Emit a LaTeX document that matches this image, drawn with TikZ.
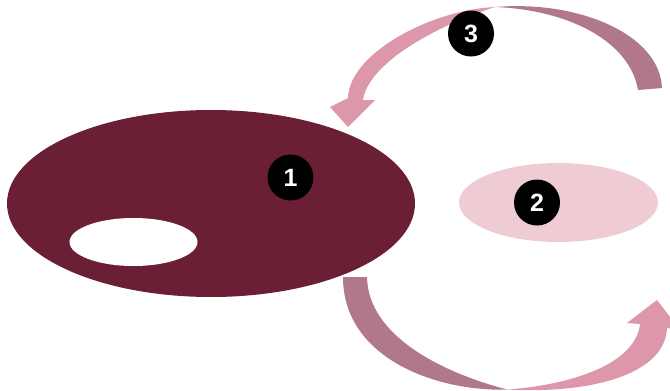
\documentclass[tikz,border=0pt]{standalone}
\usepackage{fontspec}
\setsansfont{Liberation Sans}
\usetikzlibrary{shapes.geometric}
\definecolor{maroon}{HTML}{6A1F35}
\definecolor{mauve}{HTML}{B07888}
\definecolor{rosepink}{HTML}{DC97AA}
\definecolor{palepink}{HTML}{EFCCD4}
\tikzset{
  badge/.style={circle, fill=black, minimum size=46pt, inner sep=0pt, text=white,
    font=\sffamily\bfseries\fontsize{25}{25}\selectfont},
  blob/.style={ellipse, inner sep=0pt},
  tailpart/.style={fill=mauve},
  headpart/.style={fill=rosepink}
}
\begin{document}
\begin{tikzpicture}[x=1pt,y=-1pt]
\useasboundingbox (0,0) rectangle (670,391);
\clip (0,0) rectangle (670,391);
% top arrow (3)
\coordinate (tm) at (495,7);
\path[tailpart] (662,88) .. controls (660,35) and (580,0) .. (tm)
  .. controls (570,10) and (630,42) .. (638,90) -- cycle;
\path[headpart] (tm) .. controls (430,10) and (349,54) .. (348,98)
  -- (330,107) -- (348,127) -- (375,100) -- (363,100)
  .. controls (368,65) and (430,28) .. (tm) -- cycle;
% bottom arrow
\coordinate (bm) at (507,389.5);
\path[tailpart] (343,277) .. controls (343,360) and (440,392) .. (bm)
  .. controls (440,372) and (368,335) .. (367,277) -- cycle;
\path[headpart] (bm) .. controls (560,386) and (635,368) .. (640,324)
  -- (627,323) -- (657,300) -- (680,330) -- (667,328)
  .. controls (665,375) and (590,394) .. (bm) -- cycle;
% ellipses
\node[blob, fill=maroon, minimum width=408pt, minimum height=187pt] (e1) at (211,203.5) {};
\node[blob, fill=white, minimum width=128pt, minimum height=48pt] (hole) at (133.5,242) {};
\node[blob, fill=palepink, minimum width=199pt, minimum height=79pt] (e2) at (558.5,202.5) {};
% badges
\node[badge] (b1) at (290.5,177.5) {1};
\node[badge] (b2) at (537,202.5) {2};
\node[badge] (b3) at (471,33.5) {3};
\end{tikzpicture}
\end{document}
